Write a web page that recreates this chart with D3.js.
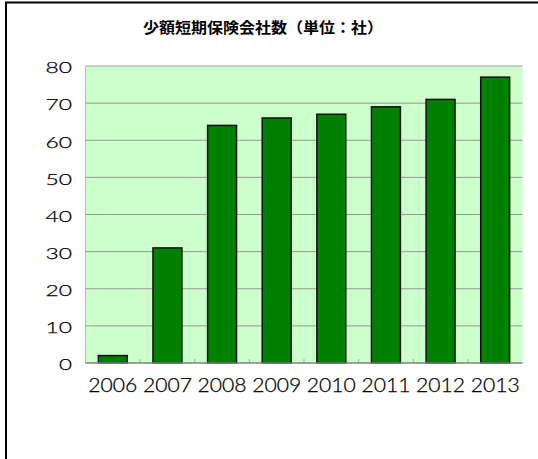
<!DOCTYPE html>
<html><head><meta charset="utf-8">
<script src="https://cdn.jsdelivr.net/npm/d3@7"></script>
<style>body{margin:0;background:#fff}svg{display:block}</style>
</head><body>
<script>
const title = "少額短期保険会社数（単位：社）";
const categories = ["2006","2007","2008","2009","2010","2011","2012","2013"];
const values = [2,31,64,66,67,69,71,77];
const yTicks = [0,10,20,30,40,50,60,70,80];

const W = 538, H = 459;
const m = {left:85.5, right:522.5, top:66, bottom:363};
const svg = d3.select("body").append("svg").attr("width",W).attr("height",H);
const numFont = "Lato, sans-serif";

// outer frame
svg.append("rect").attr("x",6).attr("y",2.5).attr("width",W+10).attr("height",H+10)
  .attr("fill","#fff").attr("stroke","#000").attr("stroke-width",2);

const x = d3.scaleBand().domain(categories).range([m.left,m.right]).paddingInner(0.47).paddingOuter(0.235);
const xc = d3.scaleBand().domain(categories).range([m.left,m.right]);
const y = d3.scaleLinear().domain([0,80]).range([m.bottom,m.top]);

// plot bg
svg.append("rect").attr("x",m.left).attr("y",m.top).attr("width",m.right-m.left).attr("height",m.bottom-m.top)
  .attr("fill","#ccffcc");
// top border
svg.append("line").attr("x1",m.left).attr("x2",m.right).attr("y1",m.top).attr("y2",m.top)
  .attr("stroke","#c0c0c0").attr("stroke-width",1.5);
// left edge
svg.append("line").attr("x1",m.left).attr("x2",m.left).attr("y1",m.top).attr("y2",m.bottom)
  .attr("stroke","#b0c8b0").attr("stroke-width",1);

// grid
svg.append("g").selectAll("line").data(yTicks.filter(d=>d>0&&d<80)).join("line")
  .attr("x1",m.left).attr("x2",m.right).attr("y1",d=>y(d)).attr("y2",d=>y(d))
  .attr("stroke","#999").attr("stroke-width",1);

// y labels
const yAxis = d3.axisLeft(y).tickValues(yTicks).tickSize(0).tickPadding(0);
const ga = svg.append("g").attr("transform",`translate(${m.left-13.5},1.5)`).call(yAxis);
ga.select(".domain").remove();
ga.selectAll("text").attr("font-family",numFont).attr("font-weight",300).attr("font-size",16.5)
  .attr("fill","#000").attr("stroke","#000").attr("stroke-width",0.25)
  .attr("textLength",d=>d===0?13:26.5).attr("lengthAdjust","spacingAndGlyphs");

// bars
svg.append("g").selectAll("rect").data(values).join("rect")
  .attr("x",(d,i)=>x(categories[i])).attr("width",x.bandwidth())
  .attr("y",d=>y(d)).attr("height",d=>y(0)-y(d))
  .attr("fill","#008000").attr("stroke","#111").attr("stroke-width",1.5);

// x ticks at category boundaries
svg.append("g").selectAll("line").data(categories.slice(1)).join("line")
  .attr("x1",d=>xc(d)).attr("x2",d=>xc(d)).attr("y1",m.bottom).attr("y2",m.bottom-4)
  .attr("stroke","#aaa").attr("stroke-width",1);

// x axis line
svg.append("line").attr("x1",m.left).attr("x2",m.right).attr("y1",m.bottom).attr("y2",m.bottom)
  .attr("stroke","#808080").attr("stroke-width",1.5);

// x labels
const xAxis = d3.axisBottom(xc).tickSize(0).tickPadding(0);
const gx = svg.append("g").attr("transform",`translate(0,${m.bottom+28.5})`).call(xAxis);
gx.select(".domain").remove();
gx.selectAll("text").attr("dy",0).attr("font-family",numFont).attr("font-weight",300).attr("font-size",19)
  .attr("fill","#000").attr("stroke","#000").attr("stroke-width",0.25)
  .attr("textLength",49).attr("lengthAdjust","spacingAndGlyphs");

// title
svg.append("text").attr("x",263).attr("y",33).attr("text-anchor","middle")
  .attr("font-family","Noto Sans CJK JP, sans-serif").attr("font-weight","bold").attr("font-size",15)
  .attr("textLength",240).attr("lengthAdjust","spacingAndGlyphs")
  .text(title);
</script>
</body></html>
